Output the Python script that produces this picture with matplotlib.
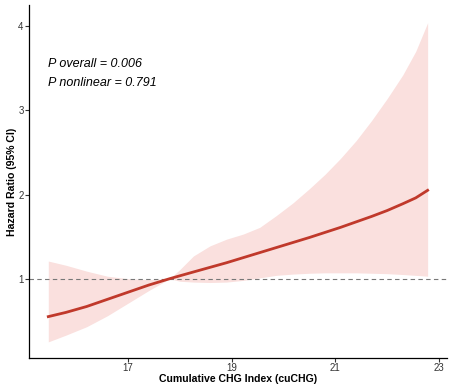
import numpy as np
import matplotlib.pyplot as plt

plt.rcParams["font.family"] = ["Liberation Sans", "DejaVu Sans"]

# valores
cuchg = [15.46, 15.8, 16.2, 16.6, 17.0, 17.4, 17.8, 18.0, 18.26, 18.58, 18.9,
         19.22, 19.54, 19.86, 20.18, 20.5, 20.8, 21.1, 21.4, 21.7, 22.0,
         22.3, 22.55, 22.78]
hr = [0.55, 0.60, 0.67, 0.755, 0.84, 0.925, 1.00, 1.035, 1.08, 1.135, 1.19,
      1.25, 1.31, 1.37, 1.43, 1.49, 1.55, 1.61, 1.675, 1.74, 1.81,
      1.89, 1.96, 2.05]
hr_upper = [1.21, 1.16, 1.09, 1.03, 1.00, 0.99, 1.00, 1.11, 1.27, 1.39, 1.47,
            1.53, 1.61, 1.75, 1.90, 2.07, 2.24, 2.43, 2.64, 2.88, 3.14,
            3.42, 3.70, 4.04]
hr_lower = [0.25, 0.33, 0.43, 0.56, 0.71, 0.86, 1.00, 0.97, 0.96, 0.955, 0.96,
            0.98, 1.01, 1.04, 1.055, 1.065, 1.07, 1.07, 1.07, 1.065, 1.06,
            1.05, 1.04, 1.03]

x_ticks = [17, 19, 21, 23]
y_ticks = [1, 2, 3, 4]

fig = plt.figure(figsize=(4.55, 3.89), dpi=100)
ax = fig.add_axes([0.064, 0.080, 0.918, 0.907])

ax.fill_between(cuchg, hr_lower, hr_upper, color="#fae0de", linewidth=0)
ax.axhline(1, color="#777777", linestyle=(0, (4, 3)), linewidth=0.8)
ax.plot(cuchg, hr, color="#c0392b", linewidth=2)

ax.set_xlim(15.09, 23.15)
ax.set_ylim(0.06, 4.25)
ax.set_xticks(x_ticks)
ax.set_yticks(y_ticks)

for s in ["top", "right"]:
    ax.spines[s].set_visible(False)
for s in ["left", "bottom"]:
    ax.spines[s].set_linewidth(0.9)
ax.tick_params(labelsize=7, colors="#333333", length=3, width=0.8, pad=1)

ax.set_xlabel("Cumulative CHG Index (cuCHG)", fontsize=7.6,
              fontweight="bold")
ax.set_ylabel("Hazard Ratio (95% CI)", fontsize=7.6, fontweight="bold")
ax.xaxis.set_label_coords(0.5, -0.047)
ax.yaxis.set_label_coords(-0.030, 0.5)

ax.text(15.46, 3.55, "P overall = 0.006", fontsize=9, style="italic",
        ha="left", va="center")
ax.text(15.46, 3.33, "P nonlinear = 0.791", fontsize=9, style="italic",
        ha="left", va="center")

fig.savefig("out.png", dpi=100)
